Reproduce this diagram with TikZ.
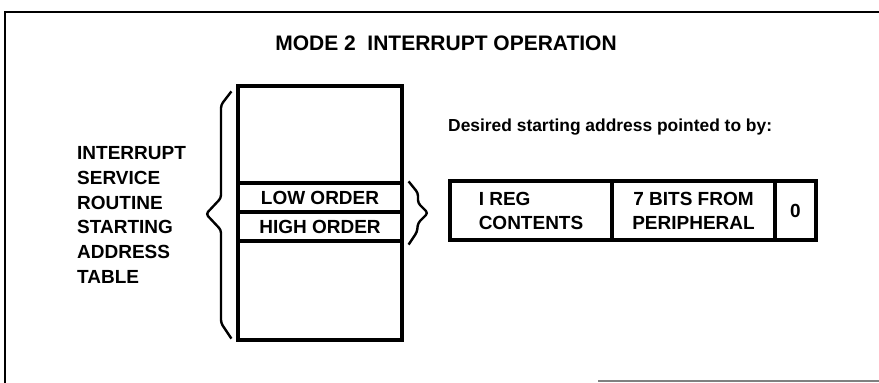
\documentclass[tikz,border=0pt]{standalone}
\usepackage{fontspec}
\setmainfont{Liberation Sans}
\begin{document}
\begin{tikzpicture}[x=1pt,y=-1pt,
  box/.style={draw,line width=3.2pt,inner sep=0pt,minimum height=29pt,minimum width=164pt},
  cell/.style={draw,line width=3.2pt,inner sep=0pt,minimum height=59pt,font=\fontsize{19}{24}\selectfont\bfseries},
  brace/.style={line width=2.4pt,rounded corners=3pt},
  lbl/.style={inner sep=0pt,font=\fontsize{19}{24.8}\selectfont\bfseries}]
\useasboundingbox (0,0) rectangle (879,383);
% frame
\draw[line width=2.4pt] (879,12) -- (5,12) -- (5,383);
\draw[line width=1.2pt,gray] (598,381) -- (879,381);
% title
\node[lbl,font=\fontsize{21}{24}\selectfont\bfseries] (title) at (446,43) {MODE 2\ \ INTERRUPT OPERATION};
% memory table
\node[draw,line width=3.2pt,inner sep=0pt,minimum width=164pt,minimum height=254pt] (tbl) at (320,213) {};
\node[box,font=\fontsize{19}{24}\selectfont\bfseries] (low) at (320,197.5) {LOW ORDER};
\node[box,font=\fontsize{19}{24}\selectfont\bfseries] (high) at (320,226.5) {HIGH ORDER};
% left label
\node[lbl,align=left,anchor=west] (isr) at (77,215) {INTERRUPT\\SERVICE\\ROUTINE\\STARTING\\ADDRESS\\TABLE};
% left brace
\draw[brace] ([xshift=-5pt,yshift=-7pt]tbl.north west) -- (221,105) -- (221,198) -- (206,214) -- (221,230) -- (221,323) -- ([xshift=-5pt,yshift=3pt]tbl.south west);
% right brace
\draw[brace] ([xshift=5pt]low.north east) -- (418,193) -- (418,203) -- (428,213) -- (418,223) -- (417,232) -- ([xshift=5pt,yshift=-2pt]high.south east);
% caption
\node[inner sep=0pt,anchor=west,font=\fontsize{17.4}{20}\selectfont\bfseries] (desired) at (448,127) {Desired starting address pointed to by:};
% register
\node[cell,minimum width=162pt,align=left] (ireg) at (531,210.5) {I REG\\CONTENTS};
\node[cell,minimum width=163pt,align=center] (bits) at (693.5,210.5) {7 BITS FROM\\PERIPHERAL};
\node[cell,minimum width=41pt] (zero) at (795.5,210.5) {0};
\end{tikzpicture}
\end{document}
